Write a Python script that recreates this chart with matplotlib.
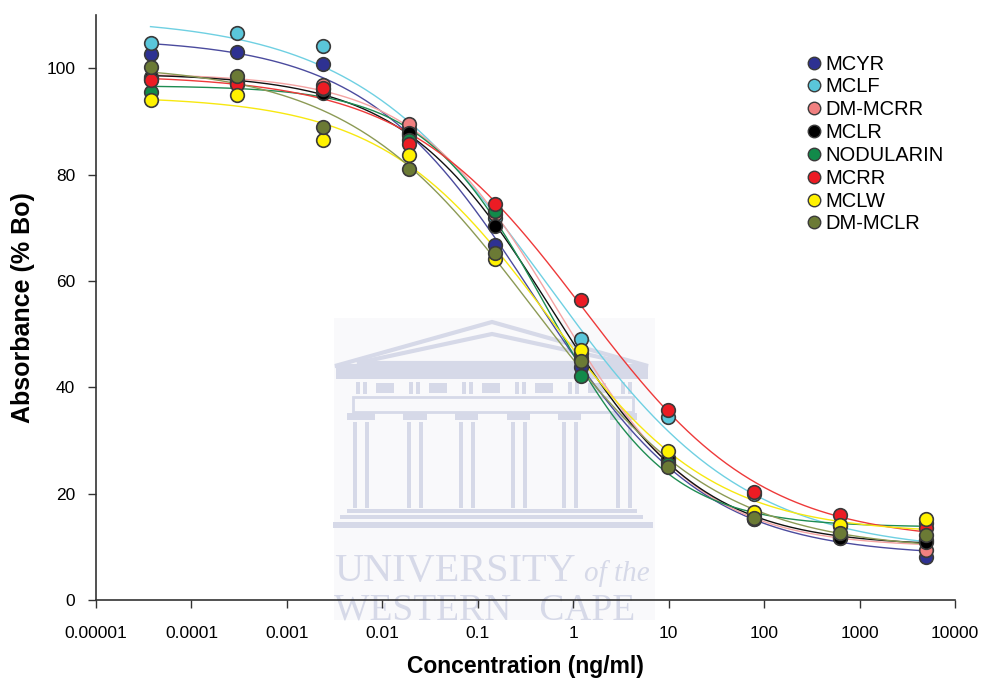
import numpy as np
import matplotlib
matplotlib.use("Agg")
import matplotlib.pyplot as plt
from matplotlib.patches import Rectangle, Polygon
from matplotlib.lines import Line2D

plt.rcParams['font.family'] = ['Liberation Sans', 'DejaVu Sans']

# 8-fold dilution series, ng/ml
conc = [3.725e-5, 2.98e-4, 2.384e-3, 0.01907, 0.1526, 1.2207, 9.766, 78.125, 625.0, 5000.0]

names = ['MCYR', 'MCLF', 'DM-MCRR', 'MCLR', 'NODULARIN', 'MCRR', 'MCLW', 'DM-MCLR']

mcyr = [102.6, 103.1, 100.8, 87.5, 66.7, 43.9, 26.0, 15.2, 11.6, 8.0]
mclf = [104.8, 106.6, 104.1, 88.5, 71.9, 49.1, 34.5, 20.0, 12.2, 11.3]
dm_mcrr = [98.0, 97.5, 96.8, 89.5, 72.5, 46.5, 26.5, 16.0, 12.0, 9.4]
mclr = [98.3, 97.6, 95.3, 87.9, 70.4, 45.5, 26.7, 15.5, 11.6, 11.0]
nodularin = [95.5, 97.0, 96.0, 86.5, 73.1, 42.1, 25.5, 15.3, 14.0, 14.5]
mcrr = [97.7, 97.0, 96.2, 85.7, 74.5, 56.5, 35.8, 20.4, 16.0, 13.5]
mclw = [94.0, 94.9, 86.5, 83.7, 64.2, 47.0, 28.1, 16.6, 14.1, 15.2]
dm_mclr = [100.3, 98.5, 89.0, 81.0, 65.2, 44.9, 25.0, 15.4, 12.6, 12.2]

series = [mcyr, mclf, dm_mcrr, mclr, nodularin, mcrr, mclw, dm_mclr]

marker_colors = ['#2e3192', '#5ac6da', '#f08080', '#000000', '#128a4a', '#ec1c24', '#fff200', '#6b7a35']
line_colors = ['#4b4b9e', '#6fd0e2', '#f4a3a3', '#111111', '#1e8c52', '#ee3a3a', '#f7e810', '#8c9a55']

x_ticks = [1e-5, 1e-4, 1e-3, 1e-2, 1e-1, 1, 10, 100, 1000, 10000]
x_labels = ['0.00001', '0.0001', '0.001', '0.01', '0.1', '1', '10', '100', '1000', '10000']
y_ticks = [0, 20, 40, 60, 80, 100]


def four_pl(lx, p):
    top, bottom, mid, hill = p
    return bottom + (top - bottom) / (1 + 10 ** (hill * (lx - mid)))


def fit_four_pl(lx, y):
    # plain Levenberg-Marquardt, numpy only
    p = np.array([y.max(), y.min(), 0.0, 0.5])
    lam = 1e-3
    sse = np.sum((y - four_pl(lx, p)) ** 2)
    for _ in range(300):
        r = y - four_pl(lx, p)
        J = np.zeros((len(lx), 4))
        for k in range(4):
            dp = np.zeros(4)
            dp[k] = 1e-6 * max(1.0, abs(p[k]))
            J[:, k] = (four_pl(lx, p + dp) - four_pl(lx, p)) / dp[k]
        A = J.T @ J
        g = J.T @ r
        step = np.linalg.solve(A + lam * np.diag(np.diag(A)), g)
        p_new = p + step
        sse_new = np.sum((y - four_pl(lx, p_new)) ** 2)
        if sse_new < sse:
            p, sse = p_new, sse_new
            lam *= 0.3
        else:
            lam *= 10
    return p


W, H = 986, 680
fig = plt.figure(figsize=(W / 100, H / 100), dpi=100)

# faint watermark, drawn in image pixel units underneath the chart
wm = fig.add_axes([0, 0, 1, 1], zorder=0)
wm.set_xlim(0, W)
wm.set_ylim(H, 0)
wm.axis('off')
wm_col = '#d6d9e8'
box = Rectangle((334, 318), 321, 302, facecolor='#f9f9fb', edgecolor='none')
wm.add_patch(box)

wm.add_patch(Polygon([(335, 366), (492, 322), (648, 366)], closed=True, fill=False,
                     edgecolor=wm_col, lw=3))
wm.add_patch(Polygon([(357, 363), (492, 334), (627, 363)], closed=True, fill=False,
                     edgecolor=wm_col, lw=3))
wm.add_patch(Rectangle((336, 367), 312, 12, facecolor=wm_col, edgecolor='none'))
for i in range(6):
    x0 = 356 + i * 53
    wm.add_patch(Rectangle((x0, 382), 4, 12, facecolor=wm_col, edgecolor='none'))
    wm.add_patch(Rectangle((x0 + 7, 382), 4, 12, facecolor=wm_col, edgecolor='none'))
    if i < 5:
        wm.add_patch(Rectangle((x0 + 20, 383), 18, 10, facecolor=wm_col, edgecolor='none'))
wm.add_patch(Rectangle((353, 397), 280, 15, facecolor='none', edgecolor=wm_col, lw=2))
caps = [(347, 375), (403, 427), (455, 478), (507, 530), (558, 581), (610, 637)]
for a, b in caps:
    wm.add_patch(Rectangle((a, 413), b - a, 7, facecolor=wm_col, edgecolor='none'))
    c = (a + b) / 2
    wm.add_patch(Rectangle((c - 8, 422), 4, 86, facecolor=wm_col, edgecolor='none'))
    wm.add_patch(Rectangle((c + 4, 422), 4, 86, facecolor=wm_col, edgecolor='none'))
wm.add_patch(Rectangle((347, 509), 290, 4, facecolor=wm_col, edgecolor='none'))
wm.add_patch(Rectangle((340, 515), 303, 4, facecolor=wm_col, edgecolor='none'))
wm.add_patch(Rectangle((333, 522), 320, 6, facecolor=wm_col, edgecolor='none'))
wm.text(334, 581, 'UNIVERSITY', family='Liberation Serif', fontsize=29, color=wm_col,
        ha='left', va='baseline')
wm.text(584, 581, 'of the', family='Liberation Serif', style='italic', fontsize=21,
        color=wm_col, ha='left', va='baseline')
t = wm.text(334, 619, 'WESTERN   CAPE', family='Liberation Serif', fontsize=27,
            color=wm_col, ha='left', va='baseline')
t.set_clip_path(box)

ax = fig.add_axes([96 / W, 80 / H, 859 / W, 585 / H], zorder=1)
ax.set_facecolor('none')

lx = np.log10(np.array(conc))
grid = np.linspace(lx.min(), lx.max(), 300)
for vals, lc in zip(series, line_colors):
    p = fit_four_pl(lx, np.array(vals, dtype=float))
    ax.plot(10 ** grid, four_pl(grid, p), color=lc, lw=1.0, zorder=2)

for vals, mc in zip(series, marker_colors):
    ax.plot(conc, vals, 'o', ms=9.8, mfc=mc, mec='#3a3a3a', mew=1.2, zorder=3)

ax.set_xscale('log')
ax.set_xlim(1e-5, 1e4)
ax.set_ylim(0, 110)
ax.set_xticks(x_ticks)
ax.set_xticklabels(x_labels)
ax.minorticks_off()
ax.set_yticks(y_ticks)
ax.tick_params(axis='both', direction='out', length=6, width=1, color='#333333',
               labelsize=12.5)
ax.tick_params(axis='x', pad=13)
ax.tick_params(axis='y', pad=9)
for side in ['top', 'right']:
    ax.spines[side].set_visible(False)
for side in ['left', 'bottom']:
    ax.spines[side].set_color('#333333')
    ax.spines[side].set_linewidth(1.2)

ax.set_xlabel('Concentration (ng/ml)', fontsize=16.5, fontweight='bold', labelpad=10)
ax.set_ylabel('Absorbance (% Bo)', fontsize=18, fontweight='bold', labelpad=8)

handles = [Line2D([], [], ls='none', marker='o', ms=9, mfc=mc, mec='#3a3a3a', mew=1.0)
           for mc in marker_colors]
ax.legend(handles, names, loc='upper left', bbox_to_anchor=(0.819, 0.946), frameon=False,
          fontsize=14.5, handlelength=0.6, handletextpad=0.3, labelspacing=0.19,
          borderaxespad=0)

fig.savefig('out.png', dpi=100)
